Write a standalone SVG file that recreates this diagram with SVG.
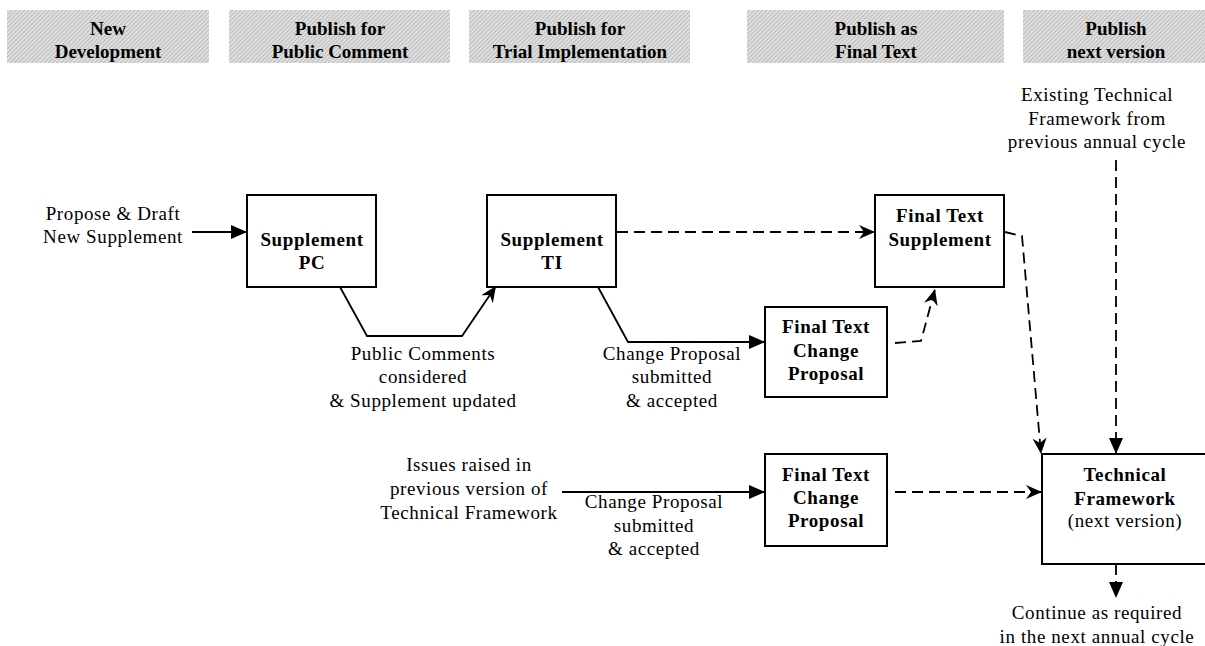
<svg xmlns="http://www.w3.org/2000/svg" width="1205" height="646" viewBox="0 0 1205 646">
<defs>
<pattern id="hatch" width="3" height="3" patternUnits="userSpaceOnUse" patternTransform="rotate(45)">
<rect width="3" height="3" fill="#e2e2e2"/>
<rect width="1.2" height="3" fill="#bdbdbd"/>
</pattern>
<marker id="tri" markerUnits="userSpaceOnUse" markerWidth="17" markerHeight="15" refX="16" refY="7" orient="auto">
<path d="M0,0 L16,7 L0,14 Z" fill="#000"/>
</marker>
<marker id="notch" markerUnits="userSpaceOnUse" markerWidth="17" markerHeight="15" refX="16" refY="7" orient="auto">
<path d="M0,0 L16,7 L0,14 L5,7 Z" fill="#000"/>
</marker>
</defs>
<style>
.hdr{fill:url(#hatch);stroke:none}
text{font-family:"Times New Roman","Liberation Serif",serif;fill:#000;text-anchor:middle}
.ht{font-weight:bold;font-size:19px}
.box{fill:#fff;stroke:#000;stroke-width:2}
.bt{font-weight:bold;font-size:19px;letter-spacing:0.6px}
.lt{font-size:19px;letter-spacing:0.6px}
.solid{fill:none;stroke:#000;stroke-width:1.8}
.dash{fill:none;stroke:#000;stroke-width:1.8;stroke-dasharray:11 6}
</style>
<rect width="1205" height="646" fill="#fff"/>

<g id="headers">
<rect class="hdr" x="7" y="10" width="202" height="53"/>
<text class="ht" x="108" y="35" font-family="Liberation Serif">New</text>
<text class="ht" x="108" y="58" font-family="Liberation Serif">Development</text>
<rect class="hdr" x="229" y="10" width="221" height="53"/>
<text class="ht" x="340" y="35">Publish for</text>
<text class="ht" x="340" y="58">Public Comment</text>
<rect class="hdr" x="469" y="10" width="221" height="53"/>
<text class="ht" x="580" y="35">Publish for</text>
<text class="ht" x="580" y="58">Trial Implementation</text>
<rect class="hdr" x="747" y="10" width="257" height="53"/>
<text class="ht" x="876" y="35">Publish as</text>
<text class="ht" x="876" y="58">Final Text</text>
<rect class="hdr" x="1023" y="10" width="190" height="53"/>
<text class="ht" x="1116" y="35">Publish</text>
<text class="ht" x="1116" y="58">next version</text>
</g>

<g id="connectors">
<path class="solid" d="M192,232 L247,232" marker-end="url(#tri)"/>
<path class="solid" d="M340,287 L367,336 L462,336 L496,286" marker-end="url(#notch)"/>
<path class="solid" d="M598,287 L628,342 L765,342" marker-end="url(#tri)"/>
<path class="dash" d="M617,232 L875,232" marker-end="url(#notch)"/>
<path class="dash" d="M895,343 L921,341 L935,289" marker-end="url(#notch)"/>
<path class="dash" d="M1005,232 L1022,236 L1041,454" marker-end="url(#notch)"/>
<path class="dash" d="M1116,160 L1116,454" marker-end="url(#tri)"/>
<path class="solid" d="M562,492 L765,492" marker-end="url(#tri)"/>
<path class="dash" d="M895,492 L1042,492" marker-end="url(#notch)"/>
<path class="dash" d="M1116,564 L1116,598" marker-end="url(#tri)"/>
</g>

<g id="labels">
<text class="lt" x="113" y="220">Propose &amp; Draft</text>
<text class="lt" x="113" y="243">New Supplement</text>
<text class="lt" x="423" y="360">Public Comments</text>
<text class="lt" x="423" y="383">considered</text>
<text class="lt" x="423" y="407">&amp; Supplement updated</text>
<text class="lt" x="672" y="360">Change Proposal</text>
<text class="lt" x="672" y="383">submitted</text>
<text class="lt" x="672" y="407">&amp; accepted</text>
<text class="lt" x="1097" y="101">Existing Technical</text>
<text class="lt" x="1097" y="125">Framework from</text>
<text class="lt" x="1097" y="148">previous annual cycle</text>
<text class="lt" x="469" y="471">Issues raised in</text>
<text class="lt" x="469" y="495">previous version of</text>
<text class="lt" x="469" y="519">Technical Framework</text>
<text class="lt" x="654" y="508">Change Proposal</text>
<text class="lt" x="654" y="532">submitted</text>
<text class="lt" x="654" y="555">&amp; accepted</text>
<text class="lt" x="1097" y="619">Continue as required</text>
<text class="lt" x="1097" y="643">in the next annual cycle</text>
</g>

<g id="supplement-pc">
<rect class="box" x="247" y="195" width="129" height="92"/>
<text class="bt" x="312" y="246">Supplement</text>
<text class="bt" x="312" y="269">PC</text>
</g>
<g id="supplement-ti">
<rect class="box" x="487" y="195" width="129" height="92"/>
<text class="bt" x="552" y="246">Supplement</text>
<text class="bt" x="552" y="269">TI</text>
</g>
<g id="final-text-supplement">
<rect class="box" x="875" y="195" width="129" height="92"/>
<text class="bt" x="940" y="222">Final Text</text>
<text class="bt" x="940" y="246">Supplement</text>
</g>
<g id="final-text-cp-upper">
<rect class="box" x="765" y="307" width="122" height="90"/>
<text class="bt" x="826" y="333">Final Text</text>
<text class="bt" x="826" y="357">Change</text>
<text class="bt" x="826" y="380">Proposal</text>
</g>
<g id="final-text-cp-lower">
<rect class="box" x="765" y="454" width="122" height="92"/>
<text class="bt" x="826" y="481">Final Text</text>
<text class="bt" x="826" y="504">Change</text>
<text class="bt" x="826" y="527">Proposal</text>
</g>
<g id="technical-framework">
<rect class="box" x="1042" y="454" width="200" height="110"/>
<text class="bt" x="1125" y="481">Technical</text>
<text class="bt" x="1125" y="505">Framework</text>
<text class="lt" x="1125" y="527">(next version)</text>
</g>
</svg>
